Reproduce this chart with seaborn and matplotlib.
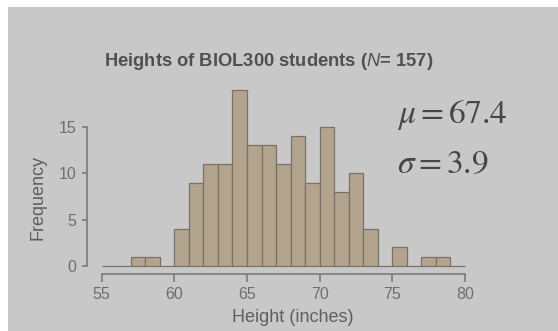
import numpy as np
import pandas as pd
import matplotlib
matplotlib.use("Agg")
import matplotlib.pyplot as plt
from matplotlib.patches import Rectangle
import seaborn as sns

# ---- data ----
bin_edges = list(range(55, 81))
bin_counts = [0, 0, 1, 1, 0, 4, 9, 11, 11, 19, 13, 13, 11, 14, 9, 15, 8, 10, 4, 0, 2, 0, 1, 1, 0]
x_ticks = [55, 60, 65, 70, 75, 80]
y_ticks = [0, 5, 10, 15]
title_text = r"Heights of BIOL300 students ($\mathit{N}$= 157)"
mu_text = r"$\mu = 67.4$"
sigma_text = r"$\sigma = 3.9$"

bin_centers = [(a + b) / 2 for a, b in zip(bin_edges[:-1], bin_edges[1:])]
df = pd.DataFrame({"height": bin_centers, "count": bin_counts})

sns.set_theme(style="white")
plt.rcParams["font.family"] = ["Liberation Sans", "DejaVu Sans"]
plt.rcParams["mathtext.fontset"] = "custom"
plt.rcParams["mathtext.it"] = "Liberation Sans:italic"
plt.rcParams["mathtext.rm"] = "Liberation Sans"

W, H = 558, 331
PT = 0.72  # points per pixel at dpi=100
fig = plt.figure(figsize=(W / 100, H / 100), dpi=100, facecolor="white")
bg = "#c8c8c8"
fig.patches.append(Rectangle((8 / W, 0), 1 - 8 / W, 1 - 7 / H, transform=fig.transFigure,
                             facecolor=bg, edgecolor="none", zorder=-10))

px55, px80 = 101.7, 465.0
y0_px = 266.0
unit = 9.27
ymax = 20
ax = fig.add_axes([px55 / W, (H - y0_px) / H, (px80 - px55) / W, unit * ymax / H])
ax.set_facecolor("none")

sns.histplot(data=df, x="height", weights="count", bins=bin_edges, ax=ax,
             color="#b3a48e", edgecolor="#7a7266", linewidth=0.9, alpha=1.0)
for p in ax.patches:
    p.set_clip_on(False)

ax.set_xlim(55, 80)
ax.set_ylim(0, ymax)
axis_col = "#7a7a7a"
for s in ["top", "right"]:
    ax.spines[s].set_visible(False)
ax.spines["bottom"].set_position(("outward", 8 * PT))
ax.spines["bottom"].set_bounds(55, 80)
ax.spines["left"].set_position(("outward", 15 * PT))
ax.spines["left"].set_bounds(0, 15)
for s in ["bottom", "left"]:
    ax.spines[s].set_color(axis_col)
    ax.spines[s].set_linewidth(1.2)

ax.set_xticks(x_ticks)
ax.set_yticks(y_ticks)
ax.set_xticklabels([str(v) for v in x_ticks])
ax.set_yticklabels([str(v) for v in y_ticks])
ax.tick_params(axis="x", direction="out", length=8 * PT, width=1.2, color=axis_col,
               labelcolor="#6e6e6e", labelsize=11.5, pad=5 * PT, bottom=True)
ax.tick_params(axis="y", direction="out", length=5 * PT, width=1.2, color=axis_col,
               labelcolor="#6e6e6e", labelsize=11.5, pad=5 * PT, left=True)
ax.set_xlabel("")
ax.set_ylabel("")

fig.text(293 / W, 1 - 318 / H, "Height (inches)", ha="center", va="center",
         fontsize=13, color="#5e5e5e")
fig.text(38 / W, 1 - 197 / H, "Frequency", ha="center", va="center", rotation=90,
         fontsize=13, color="#5e5e5e")
fig.text(269 / W, 1 - 62 / H, title_text, ha="center", va="center",
         fontsize=13.2, fontweight="bold", color="#505050", math_fontfamily="custom")

fig.text(397 / W, 1 - 123 / H, mu_text, ha="left", va="baseline",
         fontsize=24, color="#464646", math_fontfamily="stix")
fig.text(397 / W, 1 - 173 / H, sigma_text, ha="left", va="baseline",
         fontsize=24, color="#464646", math_fontfamily="stix")

fig.savefig("out.png", dpi=100, facecolor="white")
